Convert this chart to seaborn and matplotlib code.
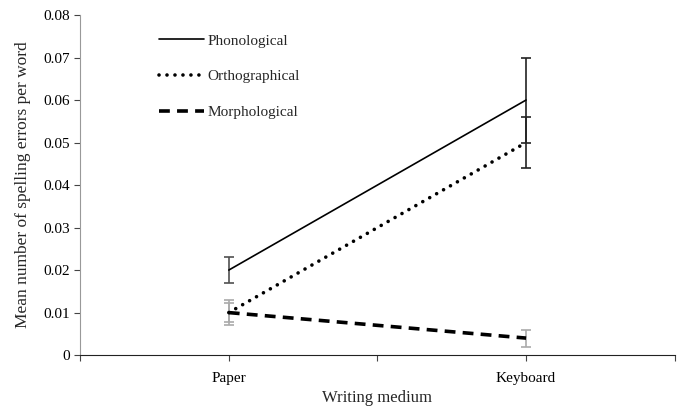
import pandas as pd
import seaborn as sns
import matplotlib.pyplot as plt

# data
media = ['Paper', 'Keyboard']
series = ['Phonological', 'Orthographical', 'Morphological']
phonological = [0.020, 0.060]
orthographical = [0.010, 0.050]
morphological = [0.010, 0.004]
phon_err = [0.003, 0.010]
orth_err = [0.0022, 0.006]
morph_err = [0.003, 0.002]

rows = []
for name, vals, errs in zip(series, [phonological, orthographical, morphological],
                            [phon_err, orth_err, morph_err]):
    for m, v, e in zip(media, vals, errs):
        rows.append({'medium': m, 'type': name, 'mean': v, 'err': e})
df = pd.DataFrame(rows)

sns.set_style('ticks')
plt.rcParams['font.family'] = ['Liberation Serif', 'DejaVu Serif']

fig = plt.figure(figsize=(6.85, 4.11), dpi=100)
ax = fig.add_axes([0.117, 0.136, 0.868, 0.8275])

# error bars first so the lines sit on top
bar_colors = {
    'Phonological': ['#505050', '#222222'],
    'Orthographical': ['#aaaaaa', '#222222'],
    'Morphological': ['#aaaaaa', '#aaaaaa'],
}
for name in series:
    sub = df[df['type'] == name]
    for i, (_, r) in enumerate(sub.iterrows()):
        ax.errorbar(i, r['mean'], yerr=r['err'], fmt='none',
                    ecolor=bar_colors[name][i], elinewidth=1.2, capsize=3.5,
                    capthick=1.2, zorder=2)

dash_map = {'Phonological': '', 'Orthographical': (0.01, 2.2),
            'Morphological': (3, 2)}
sns.lineplot(data=df, x='medium', y='mean', style='type', color='black',
             dashes=dash_map, ax=ax, legend=False, sort=False, zorder=3)

widths = {'Phonological': 1.2, 'Orthographical': 2.6, 'Morphological': 2.6}
lines = ax.get_lines()[-3:]
for line, name in zip(lines, series):
    line.set_linewidth(widths[name])
    if name == 'Orthographical':
        line.set_dash_capstyle('round')

# legend
handles = []
for name in series:
    h, = ax.plot([], [], color='black', lw=widths[name], label=name)
    if dash_map[name]:
        h.set_dashes(dash_map[name])
    if name == 'Orthographical':
        h.set_dash_capstyle('round')
    handles.append(h)
ax.legend(handles=handles, loc='upper left', bbox_to_anchor=(0.11, 0.985),
          frameon=False, fontsize=11, handlelength=2.9, handletextpad=0.25,
          labelspacing=1.45)

ax.set_xlim(-0.5, 1.5)
ax.set_ylim(0, 0.08)
ax.set_xticks([-0.5, 0, 0.5, 1, 1.5])
ax.set_xticklabels(['', 'Paper', '', 'Keyboard', ''])
ax.set_yticks([0, 0.01, 0.02, 0.03, 0.04, 0.05, 0.06, 0.07, 0.08])
ax.set_yticklabels(['0', '0.01', '0.02', '0.03', '0.04', '0.05', '0.06', '0.07', '0.08'])
ax.tick_params(axis='both', labelsize=11, direction='out', length=4, colors='#444444',
               labelcolor='black')
ax.tick_params(axis='x', pad=8)
ax.set_xlabel('Writing medium', fontsize=12, labelpad=4)
ax.set_ylabel('Mean number of spelling errors per word', fontsize=12.5, labelpad=9)

sns.despine(ax=ax)
ax.spines['left'].set_color('#999999')
ax.spines['bottom'].set_color('#222222')

fig.savefig('out.png', dpi=100)
